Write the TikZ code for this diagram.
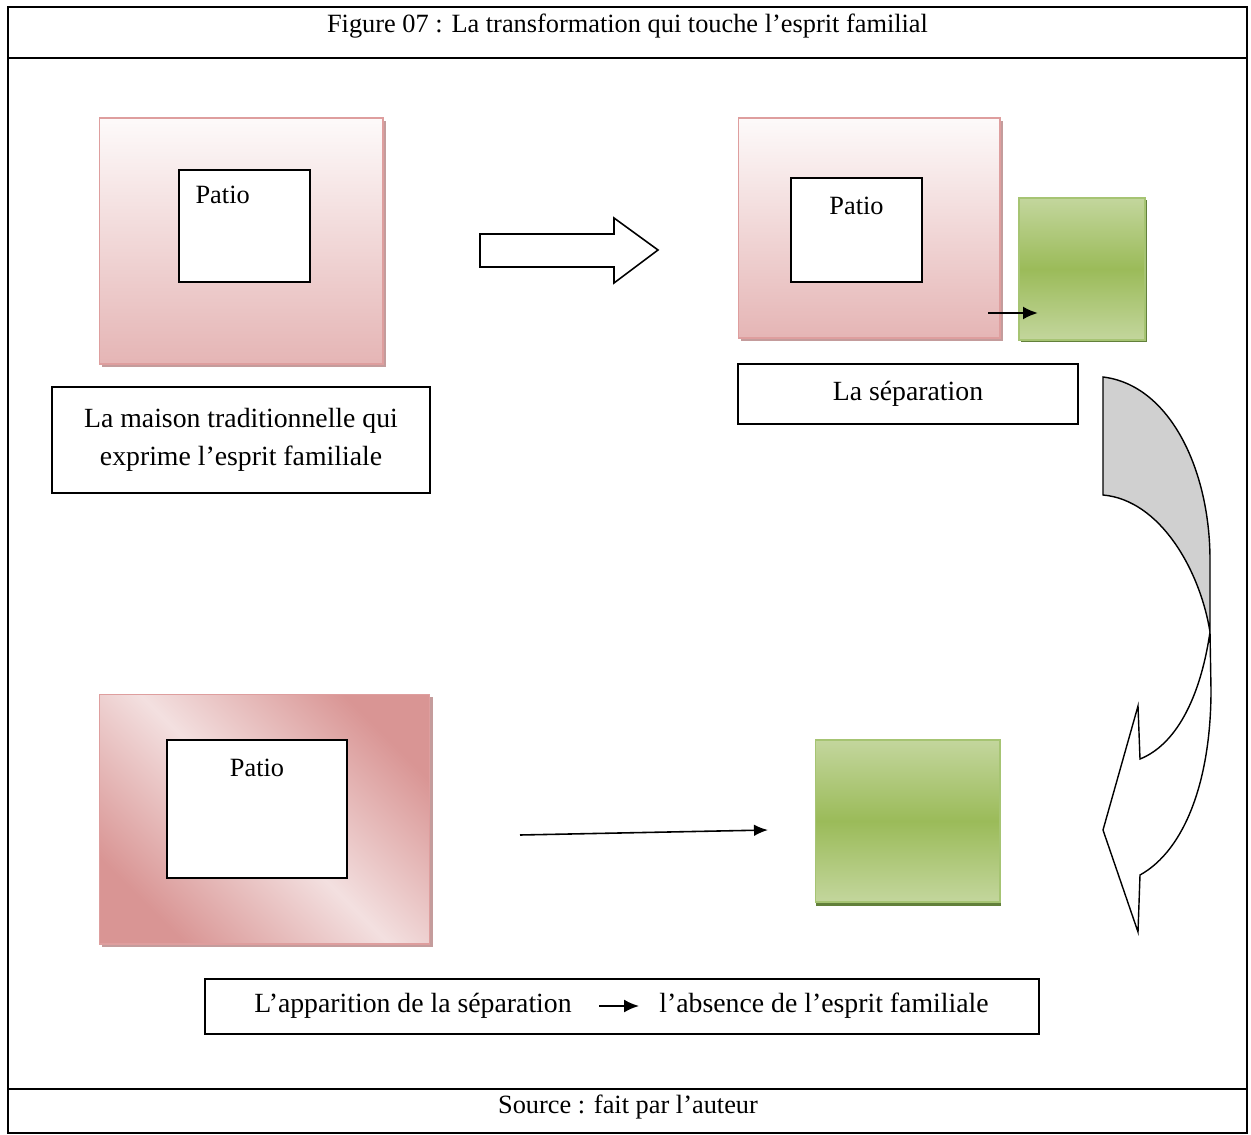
\documentclass[tikz,border=0pt]{standalone}
\usepackage{fontspec}
\setmainfont{Liberation Serif}
\usepackage{tikz}
\usetikzlibrary{arrows.meta}
\usetikzlibrary{positioning}
\usetikzlibrary{shadows}
\definecolor{pinktop}{HTML}{FDFAFA}
\definecolor{pinkbot}{HTML}{E5B5B5}
\definecolor{pinkline}{HTML}{DE9E9E}
\definecolor{pinkshadow}{HTML}{C49C9C}
\definecolor{pinkdark}{HTML}{D99594}
\definecolor{pinklight}{HTML}{F3E0E0}
\definecolor{greenlight}{HTML}{C3D69D}
\definecolor{greenmid}{HTML}{9BBB59}
\definecolor{greenline}{HTML}{A6C473}
\definecolor{greenshadow}{HTML}{62803A}
\definecolor{curvegray}{HTML}{D0D0D0}
\tikzstyle{house} = [rectangle, inner sep=0pt, draw=pinkline, line width=0.6pt,
    top color=pinktop, bottom color=pinkbot,
    drop shadow={shadow xshift=1.8pt, shadow yshift=-1.8pt, fill=pinkshadow, opacity=1}]
\tikzstyle{patio} = [rectangle, inner sep=0pt, draw=black, fill=white, line width=0.9pt]
\tikzstyle{annex} = [rectangle, inner sep=0pt, draw=greenline, line width=0.6pt,
    top color=greenlight, bottom color=greenlight, middle color=greenmid]
\tikzstyle{caption} = [rectangle, draw=black, line width=0.8pt, inner sep=0pt,
    align=center, font=\fontsize{15.8}{21.5}\selectfont]
\tikzstyle{patiotext} = [inner sep=0pt, font=\fontsize{15}{18}\selectfont]
\tikzset{>={Latex[length=3mm,width=2.6mm]}}

\begin{document}
\begin{tikzpicture}
\begin{scope}[x=0.02cm, y=-0.02cm]
    \useasboundingbox (0,0) rectangle (1251,1135);
    %frame
    \draw[line width=1pt] (8,7) rectangle (1247,1133);
    \draw[line width=1pt] (8,58) -- (1247,58);
    \draw[line width=1pt] (8,1089) -- (1247,1089);
    \node[font=\fontsize{15}{17}\selectfont] (title) at (627.5,26)
        {Figure 07 : La transformation qui touche l’esprit familial};
    \node[font=\fontsize{15}{17}\selectfont] (source) at (628,1107)
        {Source : fait par l’auteur};
    %traditional house
    \node[house, minimum width=5.68cm, minimum height=4.92cm] (house1) at (241,241) {};
    \node[patio, minimum width=2.62cm, minimum height=2.24cm] (patio1) at (244.5,226) {};
    \node[patiotext, below right=0.32cm and 0.34cm of patio1.north west] {Patio};
    \node[caption, minimum width=7.56cm, minimum height=2.12cm] (cap1) at (241,440)
        {La maison traditionnelle qui\\exprime l’esprit familiale};
    %block arrow
    \draw[line width=0.9pt, fill=white] (480,234) -- (614,234) -- (614,218) -- (658,250)
        -- (614,283) -- (614,267) -- (480,267) -- cycle;
    %house with separation
    \node[house, minimum width=5.24cm, minimum height=4.40cm] (house2) at (869,228) {};
    \node[patio, minimum width=2.62cm, minimum height=2.08cm] (patio2) at (856.5,230) {};
    \node[patiotext, below=0.38cm of patio2.north] {Patio};
    \node[annex, minimum width=2.52cm, minimum height=2.84cm,
        drop shadow={shadow xshift=1.2pt, shadow yshift=-1.4pt, fill=greenshadow, opacity=1}]
        (annex1) at (1082,269) {};
    \coordinate (s1) at (988,313);
    \coordinate (s2) at (1038,313);
    \draw[->, line width=1.3pt] (s1) -- (s2);
    \node[caption, minimum width=6.80cm, minimum height=1.20cm] (cap2) at (908,394)
        {La séparation};
    %curved arrow
    \draw[line width=0.8pt, fill=curvegray] (1103,377) -- (1103,495)
        .. controls (1160,500) and (1200,570) .. (1210,632) -- (1210,560)
        .. controls (1210,470) and (1170,385) .. (1103,377) -- cycle;
    \draw[line width=0.8pt, fill=white] (1210,632)
        .. controls (1200,700) and (1175,745) .. (1140,759)
        -- (1138,706) -- (1103,830) -- (1138,932) -- (1140,875)
        .. controls (1185,850) and (1211,780) .. (1211,690) -- cycle;
    %house after separation
    \node[house, minimum width=6.62cm, minimum height=5.00cm, top color=pinkdark,
        bottom color=pinkdark, middle color=pinklight, shading angle=-45] (house3) at (264.5,819) {};
    \node[patio, minimum width=3.60cm, minimum height=2.76cm] (patio3) at (257,809) {};
    \node[patiotext, below=0.38cm of patio3.north] {Patio};
    \coordinate (a1) at (520,835);
    \coordinate (a2) at (768,830);
    \draw[-{Latex[length=2.8mm,width=2.3mm]}, line width=0.9pt] (a1) -- (a2);
    \node[annex, minimum width=3.70cm, minimum height=3.24cm,
        drop shadow={shadow xshift=0.3pt, shadow yshift=-2pt, fill=greenshadow, opacity=1}]
        (annex2) at (907.5,821) {};
    %result
    \node[caption, minimum width=16.68cm, minimum height=1.10cm] (cap3) at (622,1006.5) {};
    \node[patiotext, font=\fontsize{15.8}{18}\selectfont] (t1) at (413,1006)
        {L’apparition de la séparation};
    \node[patiotext, font=\fontsize{15.8}{18}\selectfont] (t2) at (824,1006)
        {l’absence de l’esprit familiale};
    \draw[->, line width=1.3pt, shorten <=0.54cm, shorten >=0.4cm] (t1.east) -- (t2.west);
\end{scope}
\end{tikzpicture}
\end{document}
